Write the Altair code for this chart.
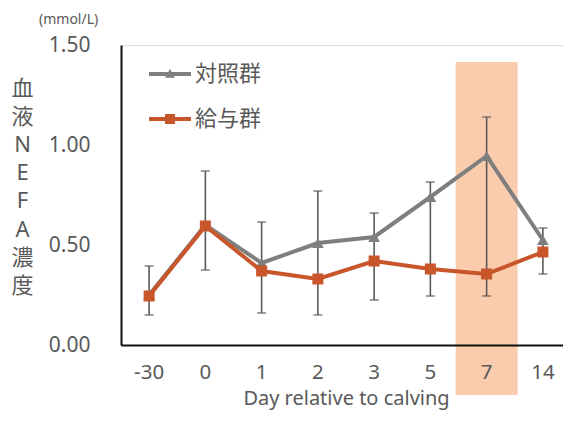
import altair as alt
import pandas as pd

days = ["-30", "0", "1", "2", "3", "5", "7", "14"]
control = [0.25, 0.60, 0.41, 0.51, 0.54, 0.74, 0.945, 0.525]
treated = [0.245, 0.595, 0.37, 0.33, 0.42, 0.38, 0.355, 0.465]
err_top = [0.395, 0.87, 0.615, 0.77, 0.66, 0.815, 1.14, 0.585]
err_bottom = [0.15, 0.375, 0.16, 0.15, 0.225, 0.245, 0.245, 0.355]
groups = ["対照群", "給与群"]
y_ticks = [0, 0.5, 1.0, 1.5]
highlight_day = "7"
highlight_top = 1.415
highlight_bottom = -0.25

GRAY = "#7F7F7F"
ORANGE = "#C9552B"
BAND = "#FACBAD"
TXT = "#595959"
FONT = "Noto Sans, Noto Sans CJK JP"

df = pd.DataFrame(
    {"day": days * 2, "value": control + treated,
     "group": [groups[0]] * len(days) + [groups[1]] * len(days)}
)
err = pd.DataFrame({"day": days, "top": err_top, "bottom": err_bottom})
band = pd.DataFrame({"day": [highlight_day], "top": [highlight_top], "bottom": [highlight_bottom]})

x_enc = alt.X(
    "day:N", sort=days,
    scale=alt.Scale(domain=days, paddingInner=0, paddingOuter=0, range=[0, 450]),
    axis=alt.Axis(title="Day relative to calving", labelAngle=0, ticks=False,
                  labelFontSize=20.5, labelColor=TXT, labelPadding=17,
                  titleFontSize=20, titleColor=TXT, titleFontWeight="normal",
                  titlePadding=6, domainColor="#111", domainWidth=2, zindex=1,
                  labelFont=FONT, titleFont=FONT),
)
y_scale = alt.Scale(domain=[0, 1.5], nice=False, zero=False)
y_axis = alt.Axis(
    values=y_ticks, format=".2f", ticks=False, grid=False,
    labelFontSize=21, labelColor=TXT, labelPadding=31, labelFont=FONT,
    domainColor="#111", domainWidth=2,
    title=["血", "液", "N", "E", "F", "A", "濃", "度"],
    titleAngle=0, titleFontSize=22, titleFontWeight="normal", titleColor=TXT,
    titleFont=FONT, titleLineHeight=28.2, titleX=-99, titleY=43,
    titleAlign="center", titleBaseline="middle",
)

color_scale = alt.Scale(domain=groups, range=[GRAY, ORANGE])
tri_path = "M-4.2,-0.4H4.2V0.4H-4.2Z M0,-1.0L1.0,0.75H-1.0Z"
sq_path = "M-4.2,-0.4H4.2V0.4H-4.2Z M-1,-1H1V1H-1Z"
shape_scale = alt.Scale(domain=groups, range=[tri_path, sq_path])
legend = alt.Legend(
    title=None, orient="none", legendX=38, legendY=18, rowPadding=23,
    symbolSize=100, labelFontSize=22, labelColor=TXT, labelFont=FONT,
    labelOffset=14, symbolStrokeWidth=0, symbolOpacity=1,
)

base = alt.Chart(df)

band_layer = alt.Chart(band).mark_bar(color=BAND, width=62).encode(
    x=x_enc, y=alt.Y("top:Q", scale=y_scale, axis=y_axis), y2="bottom:Q"
)
err_rule = alt.Chart(err).mark_rule(color=TXT, strokeWidth=1.6).encode(
    x=x_enc, y=alt.Y("top:Q", scale=y_scale), y2="bottom:Q"
)
err_top_tick = alt.Chart(err).mark_tick(color=TXT, size=9, thickness=1.6).encode(
    x=x_enc, y=alt.Y("top:Q", scale=y_scale)
)
err_bot_tick = alt.Chart(err).mark_tick(color=TXT, size=9, thickness=1.6).encode(
    x=x_enc, y=alt.Y("bottom:Q", scale=y_scale)
)

ctrl = base.transform_filter(f"datum.group === '{groups[0]}'")
trt = base.transform_filter(f"datum.group === '{groups[1]}'")

ctrl_line = ctrl.mark_line(strokeWidth=4, color=GRAY).encode(
    x=x_enc, y=alt.Y("value:Q", scale=y_scale))
ctrl_pts = ctrl.mark_point(shape="triangle-up", filled=True, size=140,
                           opacity=1, color=GRAY).encode(
    x=x_enc, y=alt.Y("value:Q", scale=y_scale))
trt_line = trt.mark_line(strokeWidth=4, color=ORANGE).encode(
    x=x_enc, y=alt.Y("value:Q", scale=y_scale))
trt_pts = trt.mark_point(shape="square", filled=True, size=121,
                         opacity=1, color=ORANGE).encode(
    x=x_enc, y=alt.Y("value:Q", scale=y_scale))

legend_layer = base.transform_filter("false").mark_point(
    filled=True, opacity=1, size=100
).encode(
    x=x_enc, y=alt.Y("value:Q", scale=y_scale),
    color=alt.Color("group:N", scale=color_scale, legend=legend),
    shape=alt.Shape("group:N", scale=shape_scale, legend=legend),
)

chart = alt.layer(
    band_layer, err_rule, err_top_tick, err_bot_tick,
    ctrl_line, ctrl_pts, trt_line, trt_pts, legend_layer,
).properties(
    width=442, height=300,
    autosize=alt.AutoSizeParams(type="none"),
    padding={"left": 113, "top": 37, "right": 0, "bottom": 68},
    title=alt.TitleParams("(mmol/L)", anchor="start", frame="group", dx=-82,
                          offset=7, fontSize=14, fontWeight="normal",
                          color=TXT, font=FONT),
).configure_view(stroke=None).configure(font=FONT)

chart.save("out.html", embed_options={"renderer": "svg", "actions": False})
